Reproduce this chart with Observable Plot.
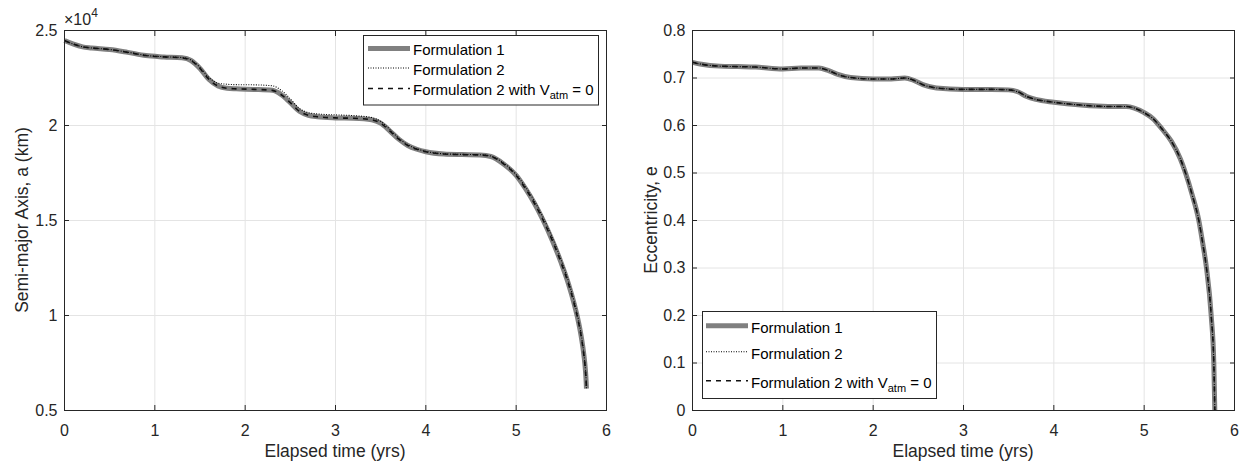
<!DOCTYPE html>
<html>
<head>
<meta charset="utf-8">
<script src="https://cdn.jsdelivr.net/npm/d3@7"></script>
<script src="https://cdn.jsdelivr.net/npm/@observablehq/plot@0.6"></script>
<style>
  html, body { margin: 0; padding: 0; background: #fff; }
  #wrap { position: relative; width: 1240px; height: 464px; display: flex; }
  #wrap svg { display: block; }
</style>
</head>
<body>
<div id="wrap"></div>
<script>
// ---- Orbit decay: semi-major axis (km) ----
const timeA = [0, 0.1, 0.2, 0.3, 0.5, 0.7, 0.9, 1.1, 1.3, 1.4, 1.5, 1.6, 1.7, 1.8, 1.9, 2.1, 2.3, 2.4, 2.5, 2.6, 2.7, 2.8, 3.0, 3.2, 3.4, 3.5, 3.6, 3.7, 3.8, 3.9, 4.0, 4.2, 4.4, 4.6, 4.72, 4.86, 5.0, 5.1, 5.2, 5.3, 5.4, 5.5, 5.58, 5.64, 5.69, 5.725, 5.75, 5.767, 5.775, 5.778];
const semiMajorF1 = [24470, 24280, 24140, 24080, 24000, 23850, 23680, 23610, 23560, 23420, 23000, 22420, 22080, 21960, 21930, 21900, 21850, 21620, 21200, 20750, 20540, 20460, 20400, 20380, 20300, 20120, 19720, 19280, 18950, 18750, 18620, 18500, 18470, 18450, 18370, 17980, 17370, 16700, 15920, 15000, 13950, 12750, 11650, 10650, 9650, 8750, 7900, 7100, 6500, 6150];
const semiMajorF2 = [24470, 24280, 24140, 24080, 24000, 23860, 23690, 23620, 23580, 23450, 23060, 22520, 22230, 22170, 22150, 22140, 22090, 21850, 21400, 20900, 20680, 20610, 20560, 20520, 20420, 20220, 19800, 19330, 18990, 18780, 18640, 18510, 18480, 18460, 18390, 18020, 17420, 16790, 16040, 15140, 14100, 12900, 11790, 10780, 9770, 8850, 7980, 7160, 6540, 6170];
const semiMajorF2NoWind = [24470, 24280, 24140, 24080, 24000, 23850, 23680, 23610, 23560, 23420, 23000, 22420, 22080, 21960, 21930, 21900, 21850, 21620, 21200, 20750, 20540, 20460, 20400, 20380, 20300, 20120, 19720, 19280, 18950, 18750, 18620, 18500, 18470, 18450, 18370, 17980, 17370, 16700, 15920, 15000, 13950, 12750, 11650, 10650, 9650, 8750, 7900, 7100, 6500, 6150];

// ---- Orbit decay: eccentricity ----
const timeE = [0, 0.1, 0.3, 0.5, 0.7, 1.0, 1.2, 1.4, 1.5, 1.6, 1.75, 2.0, 2.2, 2.35, 2.45, 2.55, 2.7, 3.0, 3.3, 3.5, 3.6, 3.7, 3.8, 4.0, 4.3, 4.6, 4.8, 5.0, 5.1, 5.2, 5.3, 5.4, 5.458, 5.53, 5.605, 5.65, 5.69, 5.742, 5.771, 5.782];
const eccF1 = [0.733, 0.729, 0.725, 0.724, 0.723, 0.719, 0.721, 0.721, 0.716, 0.708, 0.701, 0.698, 0.698, 0.700, 0.695, 0.686, 0.679, 0.676, 0.676, 0.675, 0.671, 0.661, 0.655, 0.649, 0.643, 0.640, 0.640, 0.627, 0.614, 0.592, 0.567, 0.530, 0.500, 0.455, 0.400, 0.350, 0.300, 0.200, 0.100, 0.000];
const eccF2 = [0.733, 0.729, 0.725, 0.724, 0.723, 0.719, 0.721, 0.721, 0.716, 0.708, 0.701, 0.698, 0.698, 0.700, 0.695, 0.686, 0.679, 0.676, 0.676, 0.675, 0.671, 0.661, 0.655, 0.649, 0.643, 0.640, 0.640, 0.627, 0.614, 0.592, 0.567, 0.530, 0.500, 0.455, 0.400, 0.350, 0.300, 0.200, 0.100, 0.000];
const eccF2NoWind = [0.733, 0.729, 0.725, 0.724, 0.723, 0.719, 0.721, 0.721, 0.716, 0.708, 0.701, 0.698, 0.698, 0.700, 0.695, 0.686, 0.679, 0.676, 0.676, 0.675, 0.671, 0.661, 0.655, 0.649, 0.643, 0.640, 0.640, 0.627, 0.614, 0.592, 0.567, 0.530, 0.500, 0.455, 0.400, 0.350, 0.300, 0.200, 0.100, 0.000];

const seriesNames = ["Formulation 1", "Formulation 2", "Formulation 2 with V"];
const xTicks = [0, 1, 2, 3, 4, 5, 6];
const aTicks = [5000, 10000, 15000, 20000, 25000];
const eTicks = [0, 0.1, 0.2, 0.3, 0.4, 0.5, 0.6, 0.7, 0.8];

// line styles for the three runs
const styles = [
  {stroke: "#808080", strokeWidth: 5, strokeDasharray: null},
  {stroke: "#000000", strokeWidth: 1.1, strokeDasharray: "1,1.5"},
  {stroke: "#111111", strokeWidth: 1.6, strokeDasharray: "5,5"}
];

const FONT = "'Liberation Sans', Arial, Helvetica, sans-serif";
const INK = "#262626";

function panel({marginLeft, marginRight, yDomain, yTicks, yFormat, runs}) {
  const marks = [
    Plot.gridX(xTicks, {stroke: "#e4e4e4", strokeOpacity: 1}),
    Plot.gridY(yTicks, {stroke: "#e4e4e4", strokeOpacity: 1}),
    ...runs.map((r, k) => Plot.line(
      r.t.map((t, i) => ({t, v: r.v[i]})),
      {x: "t", y: "v", curve: "monotone-x", strokeLinecap: "butt", strokeLinejoin: "round", ...styles[k]}
    )),
    Plot.frame({stroke: INK, strokeWidth: 1}),
    Plot.axisX(xTicks, {anchor: "bottom", tickSize: -5, tickPadding: 19, label: null, stroke: INK, fill: INK}),
    Plot.axisX(xTicks, {anchor: "top", tickSize: -5, tickFormat: () => "", label: null, stroke: INK}),
    Plot.axisY(yTicks, {anchor: "left", tickSize: -5, tickPadding: 12, tickFormat: yFormat, label: null, stroke: INK, fill: INK}),
    Plot.axisY(yTicks, {anchor: "right", tickSize: -5, tickFormat: () => "", label: null, stroke: INK})
  ];
  return Plot.plot({
    width: 620,
    height: 464,
    marginLeft, marginRight,
    marginTop: 30,
    marginBottom: 54,
    x: {domain: [0, 6]},
    y: {domain: yDomain},
    style: {fontFamily: FONT, fontSize: "16px", color: INK, background: "#fff", overflow: "visible"},
    marks
  });
}

function addLabels(svg, {xLabel, xLabelX, yLabel, yLabelX}) {
  const s = d3.select(svg);
  s.append("text").attr("x", xLabelX).attr("y", 457)
    .attr("text-anchor", "middle").attr("font-family", FONT).attr("font-size", 17.5).attr("fill", INK)
    .text(xLabel);
  s.append("text").attr("transform", `translate(${yLabelX},220) rotate(-90)`)
    .attr("text-anchor", "middle").attr("font-family", FONT).attr("font-size", 17.5).attr("fill", INK)
    .text(yLabel);
}

function addLegend(svg, {x0, y0, x1, y1, rows, lineX0, lineX1, textX}) {
  const s = d3.select(svg);
  const g = s.append("g");
  g.append("rect").attr("x", x0).attr("y", y0).attr("width", x1 - x0).attr("height", y1 - y0)
    .attr("fill", "#fff").attr("stroke", INK).attr("stroke-width", 1);
  seriesNames.forEach((name, k) => {
    const y = rows[k];
    g.append("line").attr("x1", lineX0).attr("x2", lineX1).attr("y1", y).attr("y2", y)
      .attr("stroke", styles[k].stroke).attr("stroke-width", styles[k].strokeWidth)
      .attr("stroke-dasharray", styles[k].strokeDasharray);
    const t = g.append("text").attr("x", textX).attr("y", y + 6.8)
      .attr("text-anchor", "start")
      .attr("font-family", FONT).attr("font-size", 15).attr("fill", "#000");
    t.append("tspan").text(name);
    if (k === 2) {
      t.append("tspan").attr("font-size", 11).attr("dy", 4).text("atm");
      t.append("tspan").attr("dy", -4).text(" = 0");
    }
  });
}

const wrap = document.getElementById("wrap");

// Left panel: semi-major axis
const left = panel({
  marginLeft: 64, marginRight: 14,
  yDomain: [5000, 25000], yTicks: aTicks,
  yFormat: d => String(d / 1e4),
  runs: [
    {t: timeA, v: semiMajorF1},
    {t: timeA, v: semiMajorF2},
    {t: timeA, v: semiMajorF2NoWind}
  ]
});
wrap.appendChild(left);
addLabels(left, {xLabel: "Elapsed time (yrs)", xLabelX: 335, yLabel: "Semi-major Axis, a (km)", yLabelX: 28});
{
  // axis exponent above the y axis
  const exp = d3.select(left).append("text").attr("x", 64).attr("y", 25)
    .attr("text-anchor", "start")
    .attr("font-family", FONT).attr("font-size", 16).attr("fill", INK);
  exp.append("tspan").text("\u00d710");
  exp.append("tspan").attr("font-size", 12).attr("dy", -8).text("4");
}
addLegend(left, {x0: 363.5, y0: 35.5, x1: 598.5, y1: 105, rows: [48.5, 68, 88.5], lineX0: 368, lineX1: 410, textX: 413});

// Right panel: eccentricity
const right = panel({
  marginLeft: 72, marginRight: 6,
  yDomain: [0, 0.8], yTicks: eTicks,
  yFormat: d => d === 0 ? "0" : d.toFixed(1),
  runs: [
    {t: timeE, v: eccF1},
    {t: timeE, v: eccF2},
    {t: timeE, v: eccF2NoWind}
  ]
});
wrap.appendChild(right);
addLabels(right, {xLabel: "Elapsed time (yrs)", xLabelX: 343, yLabel: "Eccentricity, e", yLabelX: 36.5});
addLegend(right, {x0: 82.5, y0: 311.5, x1: 316.5, y1: 398.5, rows: [325.7, 351.7, 380.7], lineX0: 86, lineX1: 128, textX: 131});
</script>
</body>
</html>
